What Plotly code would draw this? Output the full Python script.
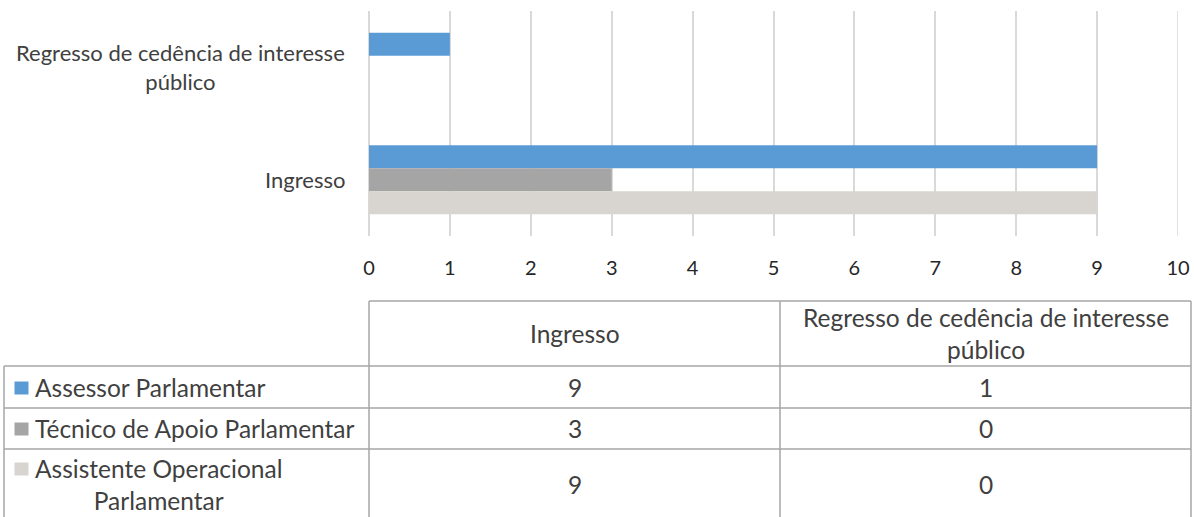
import plotly.graph_objects as go

# ---- data ----
categories = ["Regresso de cedência de interesse público", "Ingresso"]
category_labels = ["Regresso de cedência de interesse<br>público", "Ingresso"]
series_names = ["Assessor Parlamentar", "Técnico de Apoio Parlamentar", "Assistente Operacional Parlamentar"]
series_labels = ["Assessor Parlamentar", "Técnico de Apoio Parlamentar", "Assistente Operacional<br>Parlamentar"]
assessor = [1, 9]
tecnico = [0, 3]
assistente = [0, 9]
series_values = [assessor, tecnico, assistente]
colors = ["#5B9BD5", "#A5A5A5", "#D8D4CF"]
table_columns = ["Ingresso", "Regresso de cedência de interesse<br>público"]
x_ticks = list(range(0, 11))

W, H = 1194, 517
FONT = "Lato"
TXT = "#404040"
GRID = "#D9D9D9"

def px(x):
    return x / W

def py(y):
    return 1 - y / H

fig = go.Figure()
for name, vals, col in zip(series_names, series_values, colors):
    fig.add_trace(go.Bar(
        y=categories, x=vals, name=name, orientation="h",
        marker=dict(color=col, line=dict(width=0)),
        showlegend=False,
    ))

fig.update_layout(
    width=W, height=H, autosize=False,
    margin=dict(l=0, r=0, t=0, b=0, pad=0, autoexpand=False),
    paper_bgcolor="white", plot_bgcolor="white",
    barmode="group", bargap=0.387, bargroupgap=0,
    font=dict(family=FONT, color=TXT),
    showlegend=False,
    xaxis=dict(
        domain=[px(369), px(1178)], range=[0, 10], automargin=False,
        tickvals=x_ticks, ticktext=[str(t) for t in x_ticks],
        showgrid=True, gridcolor=GRID, gridwidth=1.5,
        zeroline=True, zerolinecolor=GRID, zerolinewidth=1.5,
        showline=False, ticks="",
        tickfont=dict(family=FONT, size=20, color="#262626"),
        ticklabelstandoff=18, fixedrange=True,
    ),
    yaxis=dict(
        domain=[py(236), py(11)], autorange="reversed", automargin=False,
        categoryorder="array", categoryarray=categories,
        showticklabels=False, showgrid=False, zeroline=False, showline=False,
        fixedrange=True,
    ),
)

# gridline at the last tick (Plotly drops the one on the plot edge)
fig.add_shape(type="line", xref="x", yref="y domain", x0=x_ticks[-1], x1=x_ticks[-1],
              y0=0, y1=1, line=dict(color=GRID, width=1.5), layer="below")

# category labels (centered multi-line, right-aligned block)
for cat, lab in zip(categories, category_labels):
    fig.add_annotation(
        x=px(347), y=cat, xref="paper", yref="y", text=lab,
        xanchor="right", yanchor="middle", align="center", showarrow=False,
        font=dict(family=FONT, size=22, color=TXT),
    )

# ---- data table ----
LC = "#A6A6A6"
LW = 1.5
left, c1, c2, right = 4, 369, 780, 1191
top, r1, r2, r3, bottom = 301, 366, 408, 449, 530

def hline(y, x0, x1):
    fig.add_shape(type="line", xref="paper", yref="paper",
                  x0=px(x0), x1=px(x1), y0=py(y), y1=py(y),
                  line=dict(color=LC, width=LW))

def vline(x, y0, y1):
    fig.add_shape(type="line", xref="paper", yref="paper",
                  x0=px(x), x1=px(x), y0=py(y0), y1=py(y1),
                  line=dict(color=LC, width=LW))

hline(top, c1, right)
for y in (r1, r2, r3):
    hline(y, left, right)
vline(left, r1, bottom)
for x in (c1, c2, right):
    vline(x, top, bottom)

TS = 24.5
col_centers = [(c1 + c2) / 2, (c2 + right) / 2]
for cx, lab in zip(col_centers, table_columns):
    fig.add_annotation(x=px(cx), y=py((top + r1) / 2), xref="paper", yref="paper",
                       text=lab, showarrow=False, xanchor="center", yanchor="middle",
                       align="center", font=dict(family=FONT, size=TS, color=TXT))

row_centers = [(r1 + r2) / 2, (r2 + r3) / 2, 484]
square_centers = [388, 429, 469]
for i, (lab, col, vals) in enumerate(zip(series_labels, colors, series_values)):
    yc = row_centers[i]
    sc = square_centers[i]
    fig.add_shape(type="rect", xref="paper", yref="paper",
                  x0=px(14.5), x1=px(28.5), y0=py(sc - 6.5), y1=py(sc + 6.5),
                  fillcolor=col, line=dict(width=0))
    fig.add_annotation(x=px(33), y=py(yc), xref="paper", yref="paper",
                       text=lab, showarrow=False, xanchor="left", yanchor="middle",
                       align="center", font=dict(family=FONT, size=TS, color=TXT))
    table_vals = [vals[categories.index("Ingresso")],
                  vals[categories.index("Regresso de cedência de interesse público")]]
    for cx, v in zip(col_centers, table_vals):
        fig.add_annotation(x=px(cx), y=py(yc), xref="paper", yref="paper",
                           text=str(v), showarrow=False, xanchor="center", yanchor="middle",
                           font=dict(family=FONT, size=TS, color=TXT))

fig.write_html("out.html", config={"displayModeBar": False},
               post_script="document.body.style.margin='0';document.body.style.overflow='hidden';")
